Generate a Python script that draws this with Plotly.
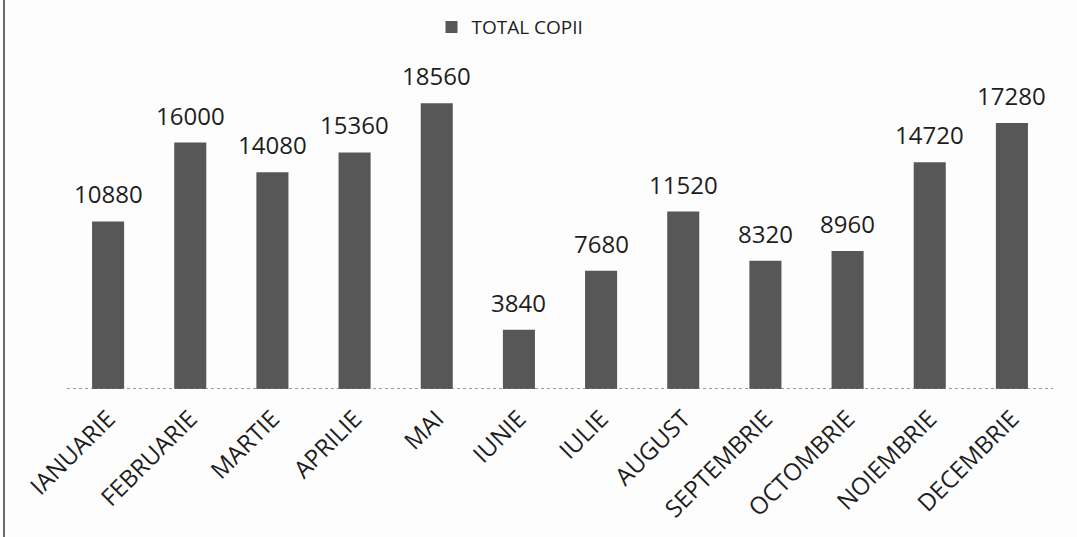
import plotly.graph_objects as go

months = ["IANUARIE", "FEBRUARIE", "MARTIE", "APRILIE", "MAI", "IUNIE", "IULIE",
          "AUGUST", "SEPTEMBRIE", "OCTOMBRIE", "NOIEMBRIE", "DECEMBRIE"]
total_copii = [10880, 16000, 14080, 15360, 18560, 3840, 7680, 11520, 8320, 8960, 14720, 17280]
series_name = "TOTAL COPII"

W, H = 1077, 537
L, R, T, B = 67, 24, 81, 148
FONT = "Open Sans"
TXT = "#1e1e1e"

fig = go.Figure()
fig.add_trace(go.Bar(
    x=months, y=total_copii, name=series_name,
    marker=dict(color="#575757", line=dict(width=0)),
))

for m, v in zip(months, total_copii):
    fig.add_annotation(x=m, y=v, text=str(v), showarrow=False,
                       xanchor="center", yanchor="bottom", yshift=9,
                       font=dict(size=24, color=TXT, family=FONT))

fig.update_layout(
    width=W, height=H,
    margin=dict(l=L, r=R, t=T, b=B, autoexpand=False),
    paper_bgcolor="#fdfdfd", plot_bgcolor="#fdfdfd",
    bargap=0.61,
    showlegend=True,
    legend=dict(orientation="h", x=(510 - L) / (W - L - R), xanchor="center",
                y=0.985, yanchor="top", yref="container",
                font=dict(size=19, color=TXT, family=FONT), itemwidth=30),
    font=dict(family=FONT, color=TXT),
    xaxis=dict(tickangle=-45, tickfont=dict(size=24, color=TXT, family=FONT),
               ticklabelstandoff=10,
               showline=False, ticks="", showgrid=False, automargin=False,
               range=[-0.5, len(months) - 0.5]),
    yaxis=dict(range=[0, 20000], visible=False, showgrid=False, automargin=False),
)

# dotted baseline
fig.add_shape(type="line", xref="paper", yref="y", x0=0, x1=1, y0=0, y1=0,
              line=dict(color="#7a7a7a", width=1.5, dash="dot"))

# left frame edge of the scanned chart
xl = -(L - 4) / (W - L - R)
fig.add_shape(type="line", xref="paper", yref="paper",
              x0=xl, x1=xl, y0=-B / (H - T - B), y1=1 + T / (H - T - B),
              line=dict(color="#6a6a6a", width=2))

fig.write_html("out.html", config={"displayModeBar": False},
               post_script="document.body.style.margin='0';")
